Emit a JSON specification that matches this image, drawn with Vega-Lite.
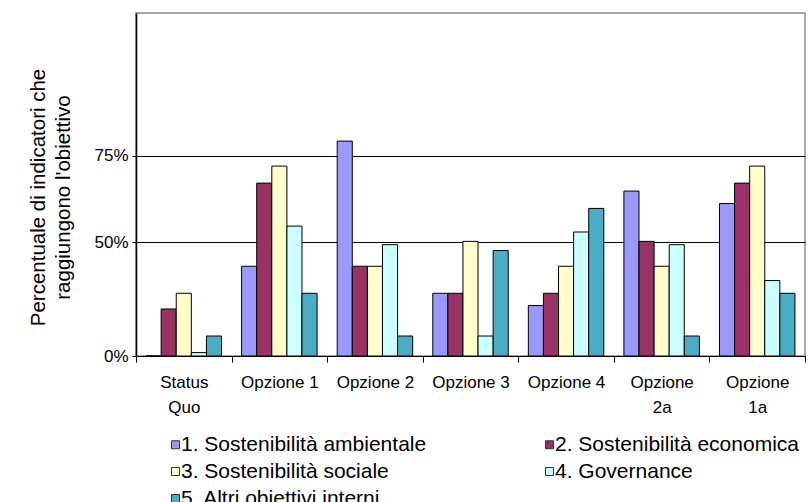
{
  "$schema": "https://vega.github.io/schema/vega-lite/v6.json",
  "width": 669,
  "height": 343,
  "autosize": {"type": "none"},
  "padding": {"left": 136, "top": 13, "right": 6, "bottom": 146},
  "background": "white",
  "config": {
    "font": "Liberation Sans",
    "view": {"stroke": "#888888", "strokeWidth": 1.5}
  },
  "data": {
    "values": [
      {"opzione": "Status Quo", "obiettivo": "1. Sostenibilità ambientale", "valore": 0},
      {"opzione": "Status Quo", "obiettivo": "2. Sostenibilità economica", "valore": 0.207},
      {"opzione": "Status Quo", "obiettivo": "3. Sostenibilità sociale", "valore": 0.276},
      {"opzione": "Status Quo", "obiettivo": "4. Governance", "valore": 0.015},
      {"opzione": "Status Quo", "obiettivo": "5. Altri obiettivi interni", "valore": 0.088},
      {"opzione": "Opzione 1", "obiettivo": "1. Sostenibilità ambientale", "valore": 0.395},
      {"opzione": "Opzione 1", "obiettivo": "2. Sostenibilità economica", "valore": 0.671},
      {"opzione": "Opzione 1", "obiettivo": "3. Sostenibilità sociale", "valore": 0.72},
      {"opzione": "Opzione 1", "obiettivo": "4. Governance", "valore": 0.547},
      {"opzione": "Opzione 1", "obiettivo": "5. Altri obiettivi interni", "valore": 0.276},
      {"opzione": "Opzione 2", "obiettivo": "1. Sostenibilità ambientale", "valore": 0.792},
      {"opzione": "Opzione 2", "obiettivo": "2. Sostenibilità economica", "valore": 0.395},
      {"opzione": "Opzione 2", "obiettivo": "3. Sostenibilità sociale", "valore": 0.395},
      {"opzione": "Opzione 2", "obiettivo": "4. Governance", "valore": 0.49},
      {"opzione": "Opzione 2", "obiettivo": "5. Altri obiettivi interni", "valore": 0.088},
      {"opzione": "Opzione 3", "obiettivo": "1. Sostenibilità ambientale", "valore": 0.276},
      {"opzione": "Opzione 3", "obiettivo": "2. Sostenibilità economica", "valore": 0.276},
      {"opzione": "Opzione 3", "obiettivo": "3. Sostenibilità sociale", "valore": 0.503},
      {"opzione": "Opzione 3", "obiettivo": "4. Governance", "valore": 0.088},
      {"opzione": "Opzione 3", "obiettivo": "5. Altri obiettivi interni", "valore": 0.464},
      {"opzione": "Opzione 4", "obiettivo": "1. Sostenibilità ambientale", "valore": 0.222},
      {"opzione": "Opzione 4", "obiettivo": "2. Sostenibilità economica", "valore": 0.276},
      {"opzione": "Opzione 4", "obiettivo": "3. Sostenibilità sociale", "valore": 0.395},
      {"opzione": "Opzione 4", "obiettivo": "4. Governance", "valore": 0.53},
      {"opzione": "Opzione 4", "obiettivo": "5. Altri obiettivi interni", "valore": 0.598},
      {"opzione": "Opzione 2a", "obiettivo": "1. Sostenibilità ambientale", "valore": 0.648},
      {"opzione": "Opzione 2a", "obiettivo": "2. Sostenibilità economica", "valore": 0.503},
      {"opzione": "Opzione 2a", "obiettivo": "3. Sostenibilità sociale", "valore": 0.395},
      {"opzione": "Opzione 2a", "obiettivo": "4. Governance", "valore": 0.49},
      {"opzione": "Opzione 2a", "obiettivo": "5. Altri obiettivi interni", "valore": 0.088},
      {"opzione": "Opzione 1a", "obiettivo": "1. Sostenibilità ambientale", "valore": 0.612},
      {"opzione": "Opzione 1a", "obiettivo": "2. Sostenibilità economica", "valore": 0.671},
      {"opzione": "Opzione 1a", "obiettivo": "3. Sostenibilità sociale", "valore": 0.72},
      {"opzione": "Opzione 1a", "obiettivo": "4. Governance", "valore": 0.332},
      {"opzione": "Opzione 1a", "obiettivo": "5. Altri obiettivi interni", "valore": 0.276}
    ]
  },
  "mark": {"type": "bar", "stroke": "black", "strokeWidth": 1},
  "encoding": {
    "x": {
      "field": "opzione",
      "type": "nominal",
      "sort": ["Status Quo", "Opzione 1", "Opzione 2", "Opzione 3", "Opzione 4", "Opzione 2a", "Opzione 1a"],
      "scale": {"paddingInner": 0, "paddingOuter": 0},
      "axis": {
        "title": null,
        "labelAngle": 0,
        "labelFontSize": 17,
        "labelColor": "black",
        "labelLineHeight": 25,
        "labelPadding": 12,
        "labelBaseline": "top",
        "labelExpr": "datum.value == 'Status Quo' ? ['Status', 'Quo'] : datum.value == 'Opzione 2a' ? ['Opzione', '2a'] : datum.value == 'Opzione 1a' ? ['Opzione', '1a'] : datum.value",
        "domainColor": "black",
        "domainWidth": 1,
        "tickColor": "black",
        "tickSize": 6,
        "tickBand": "extent",
        "grid": false
      }
    },
    "xOffset": {
      "field": "obiettivo",
      "type": "nominal",
      "scale": {"paddingInner": 0, "paddingOuter": 0.666}
    },
    "y": {
      "field": "valore",
      "type": "quantitative",
      "scale": {
        "domain": [0, 0.5, 0.75, 1.161],
        "range": [343, 229.4, 142.7, 0],
        "nice": false,
        "zero": false
      },
      "axis": {
        "title": ["Percentuale di indicatori che", "raggiungono l'obiettivo"],
        "titleFontSize": 20.5,
        "titleFontWeight": "normal",
        "titleColor": "black",
        "titleLineHeight": 25,
        "titleX": -88,
        "titleY": 184,
        "values": [0, 0.5, 0.75],
        "format": ".0%",
        "labelFontSize": 17,
        "labelColor": "black",
        "labelPadding": 4,
        "domainColor": "black",
        "domainWidth": 1.5,
        "tickColor": "black",
        "tickSize": 4,
        "grid": true,
        "gridColor": "black",
        "gridOpacity": 1,
        "gridWidth": 1.2
      }
    },
    "color": {
      "field": "obiettivo",
      "type": "nominal",
      "scale": {
        "domain": ["1. Sostenibilità ambientale", "2. Sostenibilità economica", "3. Sostenibilità sociale", "4. Governance", "5. Altri obiettivi interni"],
        "range": ["#9999FF", "#993366", "#FFFFCC", "#CCFFFF", "#4BACC6"]
      },
      "legend": {
        "title": null,
        "orient": "none",
        "legendX": 29,
        "legendY": 421,
        "columns": 2,
        "direction": "horizontal",
        "columnPadding": 112,
        "rowPadding": 5,
        "symbolType": "square",
        "symbolSize": 64,
        "symbolStrokeColor": "#333333",
        "symbolStrokeWidth": 1,
        "labelFontSize": 21,
        "labelColor": "black",
        "labelLimit": 400,
        "labelOffset": -5
      }
    }
  }
}
